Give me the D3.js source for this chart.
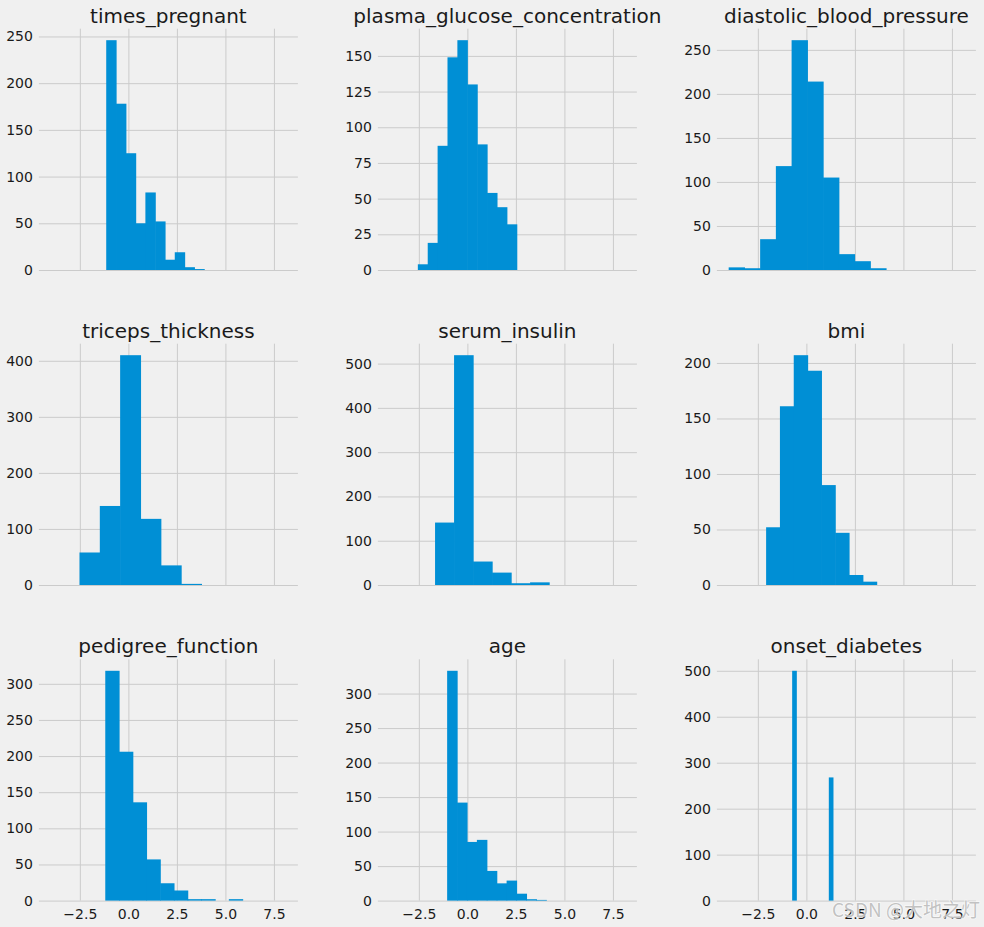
<!DOCTYPE html>
<html>
<head>
<meta charset="utf-8">
<script src="https://cdn.jsdelivr.net/npm/d3@7"></script>
<style>
  body { margin: 0; background: #f0f0f0; }
  svg text { font-family: "DejaVu Sans", sans-serif; }
</style>
</head>
<body>
<div id="chart"></div>
<script>
// panel titles, in grid order
const features = [
  "times_pregnant", "plasma_glucose_concentration", "diastolic_blood_pressure",
  "triceps_thickness", "serum_insulin", "bmi",
  "pedigree_function", "age", "onset_diabetes"
];

// standardised min / max of each column (bins split this range in 10)
const featureMin = [-1.141, -2.552, -4.003, -2.518, -1.665, -2.074, -1.190, -1.042, -0.732];
const featureMax = [3.904, 2.541, 4.102, 7.950, 8.128, 5.042, 5.884, 4.064, 1.366];

// counts per bin (10 bins each)
const timesPregnant = [246, 178, 125, 50, 83, 52, 11, 19, 3, 1];
const plasmaGlucose = [4, 19, 87, 149, 161, 130, 88, 54, 44, 32];
const diastolicBp = [3, 2, 35, 118, 261, 214, 105, 18, 10, 2];
const tricepsThickness = [58, 141, 410, 118, 35, 2, 0, 0, 0, 0];
const serumInsulin = [141, 519, 53, 28, 4, 6, 0, 0, 0, 0];
const bmi = [52, 161, 207, 193, 90, 47, 9, 3, 0, 0];
const pedigreeFunction = [318, 206, 136, 57, 24, 14, 2, 2, 0, 2];
const age = [333, 142, 85, 88, 43, 25, 29, 10, 2, 1];
const onsetDiabetes = [500, 0, 0, 0, 0, 0, 0, 0, 0, 268];

const allCounts = [timesPregnant, plasmaGlucose, diastolicBp, tricepsThickness,
  serumInsulin, bmi, pedigreeFunction, age, onsetDiabetes];

// tick values
const xTicks = [-2.5, 0, 2.5, 5, 7.5];
const yTicks = [
  [0, 50, 100, 150, 200, 250],
  [0, 25, 50, 75, 100, 125, 150],
  [0, 50, 100, 150, 200, 250],
  [0, 100, 200, 300, 400],
  [0, 100, 200, 300, 400, 500],
  [0, 50, 100, 150, 200],
  [0, 50, 100, 150, 200, 250, 300],
  [0, 50, 100, 150, 200, 250, 300],
  [0, 100, 200, 300, 400, 500]
];

const width = 984, height = 927;
const colLeft = [38.9, 377.9, 716.9];
const rowTop = [28.7, 343.7, 659.3];
const axW = 259, axH = 241.3;

const svg = d3.select("#chart")
  .append("svg")
  .attr("width", width)
  .attr("height", height)
  .attr("viewBox", [0, 0, width, height])
  .style("background-color", "#f0f0f0");

// shared x axis, 5% margins like matplotlib
const lo = d3.min(featureMin), hi = d3.max(featureMax);
const pad = (hi - lo) * 0.05;
const xScale = d3.scaleLinear().domain([lo - pad, hi + pad]).range([0, axW]);

features.forEach((name, i) => {
  const col = i % 3, row = Math.floor(i / 3);
  const counts = allCounts[i];
  const yScale = d3.scaleLinear()
    .domain([0, d3.max(counts) * 1.05])
    .range([axH, 0]);

  const g = svg.append("g")
    .attr("transform", `translate(${colLeft[col]},${rowTop[row]})`);

  // grid via axes
  const gy = g.append("g")
    .call(d3.axisLeft(yScale).tickValues(yTicks[i]).tickSize(-axW)
      .tickPadding(6).tickFormat(d3.format("d")));
  const gx = g.append("g")
    .attr("transform", `translate(0,${axH})`)
    .call(d3.axisBottom(xScale).tickValues(xTicks).tickSize(-axH)
      .tickPadding(8).tickFormat(d3.format(".1f")));

  [gy, gx].forEach((a) => {
    a.select(".domain").remove();
    a.selectAll("line").attr("stroke", "#cbcbcb").attr("stroke-width", 1);
    a.selectAll("text").attr("fill", "#1a1a1a").style("font-size", "14px");
  });
  if (row < 2) gx.selectAll("text").remove();

  // bins
  const step = (featureMax[i] - featureMin[i]) / counts.length;
  const bins = counts.map((c, k) => ({
    x0: featureMin[i] + k * step,
    x1: featureMin[i] + (k + 1) * step,
    count: c
  }));

  g.selectAll("rect.bar")
    .data(bins.filter((b) => b.count > 0))
    .enter()
    .append("rect")
    .attr("class", "bar")
    .attr("x", (d) => xScale(d.x0))
    .attr("width", (d) => xScale(d.x1) - xScale(d.x0) + 0.6)
    .attr("y", (d) => yScale(d.count))
    .attr("height", (d) => axH - yScale(d.count))
    .attr("fill", "#008fd5");

  g.append("text")
    .attr("x", axW / 2)
    .attr("y", -6)
    .attr("text-anchor", "middle")
    .style("font-size", "20px")
    .attr("fill", "#1a1a1a")
    .text(name);
});

// watermark (sits over the last tick labels, as in the source)
svg.append("text")
  .attr("x", 980)
  .attr("y", 917)
  .attr("text-anchor", "end")
  .style("font-family", "'Noto Sans CJK SC', sans-serif")
  .style("font-size", "19px")
  .attr("fill", "#b8b8b8")
  .attr("fill-opacity", 0.85)
  .attr("stroke", "#ffffff")
  .attr("stroke-width", 1.5)
  .attr("stroke-opacity", 0.6)
  .style("paint-order", "stroke")
  .text("CSDN @大地之灯");
</script>
</body>
</html>
